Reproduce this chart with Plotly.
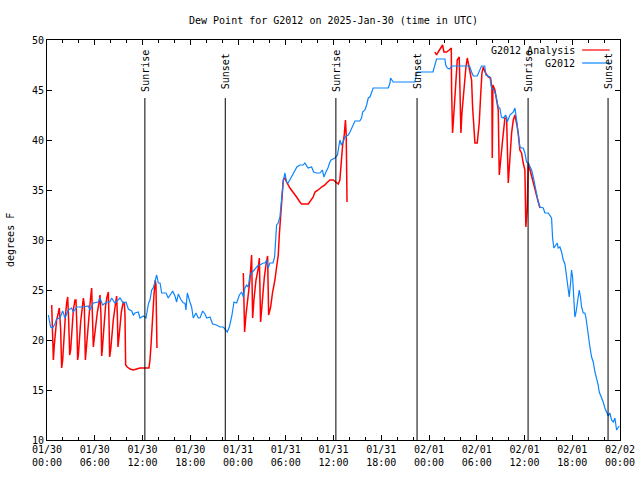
import pandas as pd
import plotly.graph_objects as go

# ---------------- data (hours after 2025-01-30 00:00 UTC) ----------------
obs_hours = [0.17, 0.46, 0.71, 1.0, 1.21, 1.63, 1.97, 2.26, 2.68, 3.1, 3.31, 3.73, 4.56, 5.19, 5.4,
             5.82, 6.45, 6.66, 6.99, 7.5, 7.91, 8.12, 8.54, 9.17, 9.59, 9.92, 10.22, 10.64, 10.85,
             11.06, 11.47, 11.68, 12.1, 12.44, 12.61, 12.77, 12.94, 13.15, 13.36, 13.57, 13.78,
             13.99, 14.2, 14.41, 14.95, 15.24, 15.45, 15.79, 16.08, 16.29, 16.5, 16.79, 17.13,
             17.34, 17.46, 17.63, 17.96, 18.17, 18.38, 18.72, 19.01, 19.22, 19.56, 19.85, 20.06,
             20.48, 20.81, 21.31, 21.73, 22.15, 22.36, 22.65, 22.91, 23.2, 23.5, 23.83, 24.17,
             24.46, 24.67, 24.87, 25.08, 25.29, 25.5, 25.71, 25.92, 26.26, 26.55, 26.76, 27.18,
             27.38, 27.6, 27.8, 28.0, 28.4, 28.6, 28.85, 29.05, 29.27, 29.4, 29.5, 29.7, 29.9,
             30.1, 30.3, 30.5, 30.86, 31.15, 31.4, 31.78, 32.2, 32.4, 32.6, 32.8, 33.25, 33.5,
             33.9, 34.3, 34.6, 34.8, 35.05, 35.3, 35.5, 35.7, 36.18, 36.5, 36.6, 36.8, 36.99,
             37.2, 37.44, 37.85, 38.07, 38.28, 38.5, 38.7, 39.3, 39.53, 39.66, 39.95, 40.16,
             40.37, 40.58, 40.78, 40.99, 42.88, 43.1, 43.17, 43.3, 43.5, 46.22, 46.5, 48.5, 48.7,
             48.95, 50.0, 50.1, 50.3, 50.6, 50.83, 53.1, 53.35, 53.56, 54.06, 54.31, 54.6, 55.0,
             55.15, 55.65, 55.86, 56.15, 56.4, 56.7, 56.9, 57.1, 57.33, 57.66, 57.83, 58.17,
             58.38, 58.59, 58.8, 58.92, 59.09, 59.2, 59.42, 59.63, 59.84, 60.05, 60.26, 60.47,
             60.68, 60.89, 61.1, 61.3, 61.5, 61.73, 61.94, 62.36, 62.56, 62.98, 63.19, 63.4,
             63.53, 63.69, 63.94, 64.11, 64.24, 64.45, 64.66, 64.87, 65.08, 65.2, 65.37, 65.5,
             65.62, 65.79, 65.91, 66.04, 66.21, 66.33, 66.46, 66.63, 66.75, 66.88, 67.05, 67.17,
             67.38, 67.59, 67.71, 67.88, 68.0, 68.22, 68.43, 68.64, 68.85, 69.06, 69.26, 69.39,
             69.68, 69.89, 70.1, 70.31, 70.52, 70.73, 70.94, 71.15, 71.36, 71.57, 71.78, 71.9]
obs_dewpt = [22.5, 21.3, 21.2, 21.6, 22.1, 22.2, 22.9, 22.2, 23.0, 23.2, 22.8, 23.3, 23.3, 23.4, 23.0,
             23.7, 23.8, 24.2, 23.5, 23.8, 23.8, 24.2, 23.7, 24.2, 23.7, 23.8, 23.1, 22.9, 22.5,
             22.7, 22.8, 22.2, 22.4, 22.2, 23.0, 23.7, 24.0, 25.0, 25.2, 25.8, 26.5,
             25.7, 25.7, 24.7, 24.7, 24.2, 24.5, 24.9, 24.4, 23.8, 24.6, 24.1, 23.7,
             23.7, 23.0, 24.7, 23.8, 23.3, 22.2, 22.7, 22.2, 22.2, 22.9, 22.6, 22.2,
             22.3, 21.6, 21.5, 21.3, 21.3, 21.1, 20.8, 21.3, 22.3, 23.8, 23.7, 24.5,
             24.8, 24.3, 25.2, 25.5, 25.3, 26.5, 26.7, 26.8, 27.2, 27.5, 27.5, 27.7,
             27.7, 28.0, 27.2, 27.7, 27.7, 28.3, 31.5, 31.7, 32.3, 33.7, 34.8, 36.0, 36.7,
             35.8, 35.7, 36.0, 36.5, 36.9, 37.3, 37.5, 37.5, 37.7, 37.4, 37.2, 37.3, 36.8,
             36.7, 36.7, 37.0, 36.3, 36.8, 37.2, 37.7, 38.0, 38.2, 38.5, 39.0, 40.0, 39.5,
             39.8, 40.3, 40.5, 40.8, 41.2, 41.5, 41.9, 41.9, 42.2, 42.8, 43.0, 43.5,
             44.2, 44.3, 44.8, 45.2, 45.2, 45.7, 46.2, 46.0, 45.8, 45.8, 46.8, 46.8, 47.3,
             48.1, 48.1, 47.5, 47.2, 47.1, 47.4, 47.4, 46.8, 46.4, 46.4, 46.8, 47.4, 47.4,
             46.5, 46.3, 45.2, 45.0, 44.5, 43.3, 43.2, 42.3, 42.2, 42.5, 41.8, 42.5,
             42.7, 42.8, 43.2, 42.2, 41.5, 40.7, 39.3, 39.2, 39.2, 38.7, 37.8, 37.7,
             37.3, 37.0, 36.3, 35.3, 34.7, 33.8, 33.3, 33.2, 32.7, 32.7, 32.5, 32.2,
             30.2, 29.2, 29.5, 29.7, 29.2, 29.3, 28.8, 28.0, 27.6, 26.8, 25.8, 25.0,
             24.3, 25.7, 27.0, 26.3, 24.0, 22.3, 22.7, 23.7, 24.5, 25.0, 24.2, 23.3,
             22.7, 22.7, 22.3, 21.2, 20.3, 19.3, 18.3, 17.8, 16.8, 16.2, 15.5, 14.8,
             14.3, 13.8, 13.2, 12.7, 12.4, 12.7, 12.0, 11.8, 12.2, 11.0, 11.2, 11.4]

# analysis segments (gaps between them)
ana1_hours = [0.59, 0.71, 0.8, 0.92, 1.05, 1.21, 1.42, 1.55, 1.72, 1.84, 1.97, 2.14, 2.3, 2.47, 2.6,
              2.72, 2.85, 2.97, 3.14, 3.31, 3.52, 3.64, 3.77, 3.85, 3.94, 4.06, 4.23, 4.4, 4.57,
              4.69, 4.82, 4.98, 5.11, 5.28, 5.44, 5.61, 5.74, 5.82, 5.99, 6.16, 6.33, 6.49, 6.66,
              6.78, 6.87, 6.95, 7.08, 7.2, 7.37, 7.54, 7.71, 7.79, 7.87, 8.0, 8.17, 8.33, 8.5,
              8.67, 8.75, 8.84, 8.92, 9.05, 9.17, 9.34, 9.51, 9.59, 9.72, 9.8, 9.88, 10.09,
              10.43, 10.85, 11.26, 11.68, 12.81, 12.94, 13.07, 13.19, 13.32, 13.44, 13.61,
              13.69, 13.82]
ana1_dewpt = [23.5, 21.0, 18.0, 19.5, 21.0, 22.0, 22.7, 23.2, 21.0, 17.2, 18.0, 20.5, 22.3, 23.7, 24.3,
              22.0, 18.5, 19.0, 21.0, 23.0, 24.0, 24.0, 21.0, 18.0, 18.5, 20.5, 21.8, 23.0, 24.2,
              23.5, 18.0, 19.5, 21.0, 22.3, 23.9, 25.2, 22.0, 19.3, 20.5, 21.8, 22.8, 23.5, 24.5,
              22.5, 18.4, 19.0, 20.5, 22.3, 23.5, 24.3, 24.8, 22.0, 18.3, 19.0, 21.0, 22.0, 23.0,
              24.0, 24.4, 22.5, 19.3, 20.3, 21.5, 22.8, 23.5, 23.8, 23.7, 22.5, 17.5, 17.3,
              17.1, 17.0, 17.1, 17.2, 17.2, 18.0, 19.5, 21.6, 23.0, 24.5, 26.0,
              25.5, 19.2]
ana2_hours = [24.67, 24.83, 25.0, 25.25, 25.5, 25.71, 25.84, 26.0, 26.26, 26.51, 26.68, 26.84, 27.1,
              27.3, 27.51, 27.72, 27.85, 28.1, 28.35, 28.64, 28.85, 29.06, 29.19, 29.35, 29.52,
              29.69, 29.9, 30.1, 30.53, 30.95, 31.36, 31.78, 31.99, 32.83, 33.04, 33.45, 33.67,
              34.08, 34.5, 34.92, 35.13, 35.55, 35.97, 36.3, 36.6, 36.8, 36.95, 37.15, 37.35,
              37.5, 37.6, 37.7]
ana2_dewpt = [26.7, 20.8, 22.5, 24.5, 26.0, 28.5, 22.2, 24.0, 26.0, 27.0, 28.2, 21.8, 24.5,
              26.2, 27.5, 28.4, 22.5, 23.3, 24.8, 26.0, 27.3, 28.5, 30.5, 32.5, 34.0,
              36.0, 36.2, 35.8, 35.2, 34.8, 34.3, 33.8, 33.6, 33.6, 33.8, 34.3, 34.8,
              35.0, 35.3, 35.5, 35.7, 36.0, 36.0, 35.8, 35.6, 36.0, 37.5, 39.5, 40.5,
              42.0, 40.5, 33.8]
ana3_hours = [48.74, 48.95, 49.16, 49.46, 49.71, 49.87, 50.21, 50.54, 50.8, 50.84, 50.96, 51.13,
              51.38, 51.55, 51.8, 51.88, 52.01, 52.14, 52.39, 52.64, 52.81, 53.06, 53.35, 53.48,
              53.77, 54.06, 54.31, 54.48, 54.65, 54.82, 55.03, 55.44, 55.74, 55.9, 55.95, 56.03,
              56.28, 56.49, 56.7, 56.83, 57.0, 57.25, 57.54, 57.75, 57.96, 58.17, 58.38, 58.59,
              58.8, 59.0, 59.21, 59.42, 59.63, 59.84, 60.05, 60.17, 60.34, 60.47, 60.68, 60.89,
              61.1, 61.31, 61.52, 61.73, 61.94]
ana3_dewpt = [48.8, 48.5, 48.8, 49.2, 49.5, 48.8, 48.8, 49.0, 49.2, 45.0, 40.7, 42.7,
              46.0, 48.0, 48.3, 44.3, 40.7, 42.7, 45.2, 47.3, 48.2, 47.3, 46.0, 43.3,
              39.7, 39.7, 41.7, 44.3, 46.7, 47.3, 46.8, 46.3, 46.2, 45.2, 38.2, 45.5,
              45.0, 44.0, 43.0, 36.5, 37.7, 40.0, 42.2, 42.2, 35.7, 38.3, 40.7, 42.0,
              42.5, 41.7, 40.7, 39.0, 38.7, 37.7, 37.0, 31.3, 33.0, 37.7, 37.0, 36.3,
              35.7, 35.0, 34.3, 33.8, 33.2]

event_hours = [12.3, 22.4, 36.3, 46.5, 60.45, 70.5]
event_labels = ["Sunrise", "Sunset", "Sunrise", "Sunset", "Sunrise", "Sunset"]

title_text = "Dew Point for G2012 on 2025-Jan-30 (time in UTC)"
y_title = "degrees F"
ana_name = "G2012 Analysis"
obs_name = "G2012"

# ---------------- build ----------------
base = pd.Timestamp("2025-01-30 00:00")
def to_time(hours):
    return [base + pd.Timedelta(hours=h) if h is not None else None for h in hours]

ana_hours = ana1_hours + [None] + ana2_hours + [None] + ana3_hours
ana_dewpt = ana1_dewpt + [None] + ana2_dewpt + [None] + ana3_dewpt

RED = "#ff0000"
BLUE = "#0a84ff"
FONT = "DejaVu Sans Mono"

fig = go.Figure()
fig.add_trace(go.Scatter(x=to_time(ana_hours), y=ana_dewpt, mode="lines", name=ana_name,
                         line=dict(color=RED, width=1.5), connectgaps=False))
fig.add_trace(go.Scatter(x=to_time(obs_hours), y=obs_dewpt, mode="lines", name=obs_name,
                         line=dict(color=BLUE, width=1.2)))

for h, lab in zip(event_hours, event_labels):
    t = base + pd.Timedelta(hours=h)
    fig.add_shape(type="line", xref="x", yref="paper", x0=t, x1=t, y0=0, y1=0.855,
                  line=dict(color="black", width=1))
    fig.add_annotation(x=t, xref="x", y=0.9225, yref="paper", text=lab, textangle=-90,
                       xanchor="center", yanchor="middle",
                       showarrow=False, font=dict(family=FONT, size=10, color="black"))

# manual gnuplot-style legend (text then sample line)
leg_y = [0.975, 0.9425]
for name, col, yy in zip([ana_name, obs_name], [RED, BLUE], leg_y):
    fig.add_annotation(x=0.9245, xref="paper", y=yy, yref="paper", text=name, showarrow=False,
                       xanchor="right", yanchor="middle",
                       font=dict(family=FONT, size=10, color="black"))
    fig.add_shape(type="line", xref="paper", yref="paper", x0=0.934, x1=0.982, y0=yy, y1=yy,
                  line=dict(color=col, width=1.2))

fig.add_annotation(x=-0.0646, xref="paper", y=0.5, yref="paper", text=y_title, textangle=-90,
                   xanchor="center", yanchor="middle",
                   showarrow=False, font=dict(family=FONT, size=10, color="black"))

axis_common = dict(showline=True, linecolor="black", linewidth=1, mirror="allticks",
                   ticks="inside", tickcolor="black", showgrid=False, zeroline=False,
                   automargin=False,
                   tickfont=dict(family=FONT, size=10, color="black"))

fig.update_xaxes(type="date", range=[base, base + pd.Timedelta(hours=72)],
                 tick0=base, dtick=6 * 3600 * 1000, tickformat="%m/%d<br>%H:%M", ticklen=5,
                 minor=dict(dtick=2 * 3600 * 1000, ticks="inside", ticklen=3, tickcolor="black"),
                 **axis_common)
fig.update_yaxes(range=[10, 50], dtick=5, ticklen=5, **axis_common)

fig.update_layout(
    width=640, height=480,
    margin=dict(l=47, r=20, t=40, b=40, autoexpand=False),
    paper_bgcolor="white", plot_bgcolor="white",
    showlegend=False,
    title=dict(text=title_text, x=0.5, xref="paper", xanchor="center", y=1 - 20 / 480,
               yanchor="middle", font=dict(family=FONT, size=10, color="black")),
    font=dict(family=FONT, size=10, color="black"),
)

fig.write_html("out.html", config={"displayModeBar": False},
               post_script="document.body.style.margin='0';document.body.style.padding='0';"
                           "document.body.style.overflow='hidden';")
